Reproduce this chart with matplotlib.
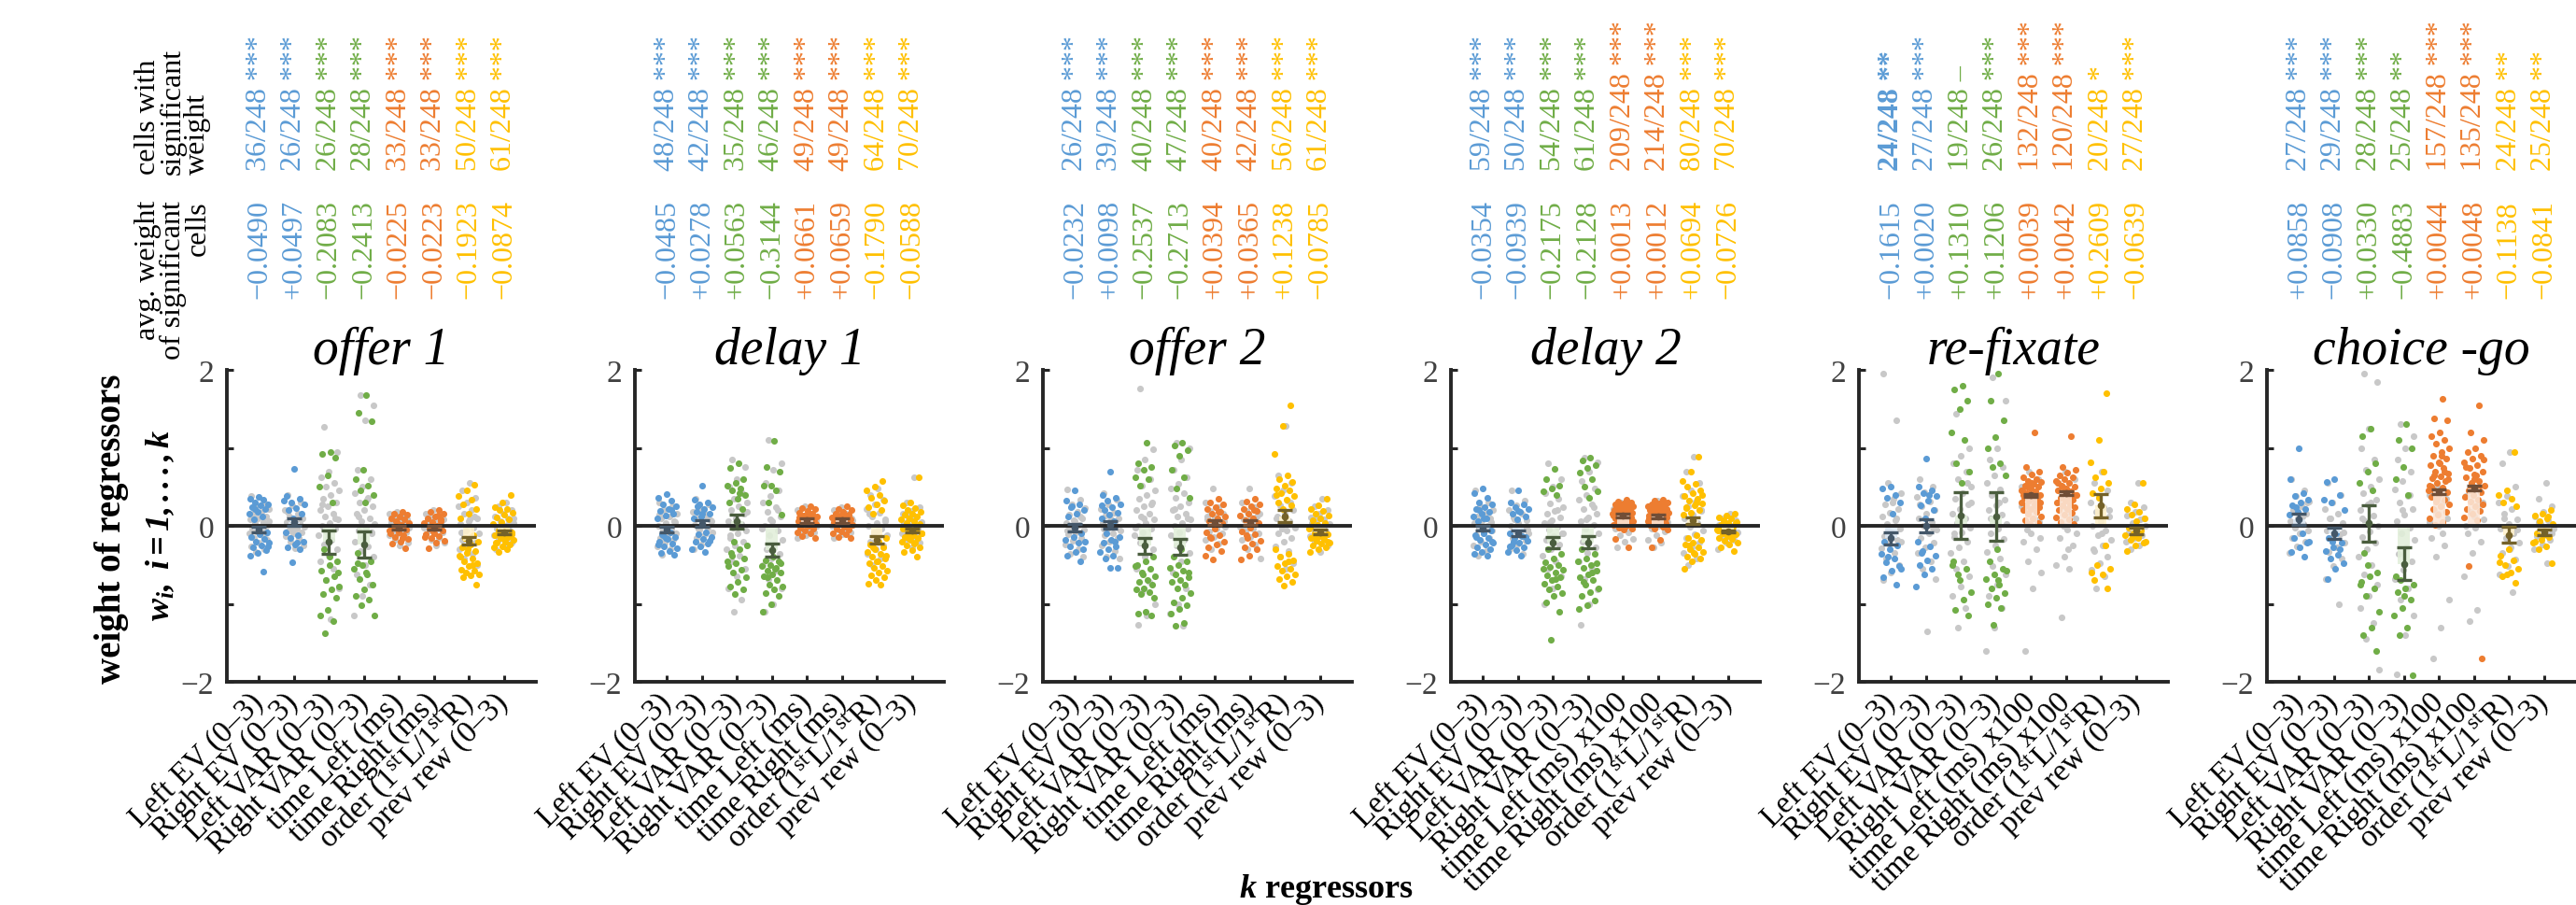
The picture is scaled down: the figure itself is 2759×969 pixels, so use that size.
import numpy as np
import matplotlib
matplotlib.use('Agg')
import matplotlib.pyplot as plt
from matplotlib.transforms import blended_transform_factory
from matplotlib.colors import to_rgb

plt.rcParams['font.family'] = ['Liberation Serif', 'DejaVu Serif']
plt.rcParams['mathtext.fontset'] = 'custom'
plt.rcParams['mathtext.rm'] = 'Liberation Serif'
plt.rcParams['mathtext.it'] = 'Liberation Serif:italic'
plt.rcParams['mathtext.bf'] = 'Liberation Serif:italic:bold'

# ---------------- data ----------------
PANELS = ['offer 1', 'delay 1', 'offer 2', 'delay 2', 're-fixate', 'choice -go']
REGRESSORS = ['Left EV (0\u20133)', 'Right EV (0\u20133)', 'Left VAR (0\u20133)', 'Right VAR (0\u20133)',
              'time Left (ms)', 'time Right (ms)', r'order (1$^{\mathrm{st}}$L/1$^{\mathrm{st}}$R)',
              'prev rew (0\u20133)']
X100 = [False, False, False, True, True, True]   # time regressors shown x100
N_CELLS = 248

SIG_COUNTS = [[36, 26, 26, 28, 33, 33, 50, 61],
              [48, 42, 35, 46, 49, 49, 64, 70],
              [26, 39, 40, 47, 40, 42, 56, 61],
              [59, 50, 54, 61, 209, 214, 80, 70],
              [24, 27, 19, 26, 132, 120, 20, 27],
              [27, 29, 28, 25, 157, 135, 24, 25]]
STARS = [['***'] * 8, ['***'] * 8, ['***'] * 8, ['***'] * 8,
         ['**', '***', '\u2013', '***', '***', '***', '*', '***'],
         ['***', '***', '***', '**', '***', '***', '**', '**']]
BOLD_COUNT = [(4, 0)]
AVG_WEIGHT = [[-0.0490, 0.0497, -0.2083, -0.2413, -0.0225, -0.0223, -0.1923, -0.0874],
              [-0.0485, 0.0278, 0.0563, -0.3144, 0.0661, 0.0659, -0.1790, -0.0588],
              [-0.0232, 0.0098, -0.2537, -0.2713, 0.0394, 0.0365, 0.1238, -0.0785],
              [-0.0354, -0.0939, -0.2175, -0.2128, 0.0013, 0.0012, 0.0694, -0.0726],
              [-0.1615, 0.0020, 0.1310, 0.1206, 0.0039, 0.0042, 0.2609, -0.0639],
              [0.0858, -0.0908, 0.0330, -0.4883, 0.0044, 0.0048, -0.1138, -0.0841]]
ERR_HALF = [[0.04, 0.047, 0.145, 0.17, 0.025, 0.025, 0.05, 0.025],
            [0.036, 0.04, 0.09, 0.084, 0.025, 0.025, 0.045, 0.02],
            [0.05, 0.045, 0.1, 0.1, 0.03, 0.03, 0.08, 0.025],
            [0.03, 0.035, 0.075, 0.08, 0.02, 0.02, 0.04, 0.015],
            [0.08, 0.08, 0.3, 0.31, 0.015, 0.02, 0.15, 0.04],
            [0.072, 0.072, 0.235, 0.21, 0.03, 0.03, 0.1, 0.04]]

# representative cell weights (plotted units), non-significant (gray) and significant (colored)
GRAY_OFFER1 = [
    [0.38, 0.3, 0.25, 0.22, 0.18, 0.15, 0.12, 0.1, 0.08, 0.05, 0.03, 0.01, -0.01, -0.03, -0.05, -0.07, -0.09, -0.12, -0.15, -0.18, -0.22, -0.26, -0.3, -0.34, 0.06, -0.02, 0.14, -0.1],
    [0.4, 0.3, 0.26, 0.2, 0.16, 0.12, 0.1, 0.07, 0.05, 0.03, 0.01, -0.01, -0.03, -0.06, -0.08, -0.1, -0.13, -0.16, -0.2, -0.25, -0.29, 0.18, 0.09, -0.04],
    [1.27, 0.95, 0.7, 0.62, 0.55, 0.5, 0.45, 0.4, 0.35, 0.3, 0.25, 0.2, 0.16, 0.12, 0.08, 0.04, 0.0, -0.04, -0.08, -0.12, -0.18, -0.24, -0.3, -0.38, -0.45, -0.55, -0.7, -0.8, -1.2, 0.28, 0.1, -0.15],
    [1.68, 1.55, 1.35, 0.72, 0.6, 0.5, 0.42, 0.36, 0.3, 0.25, 0.2, 0.15, 0.1, 0.06, 0.02, -0.02, -0.06, -0.1, -0.15, -0.2, -0.26, -0.32, -0.4, -0.5, -0.62, -0.75, -0.9, -1.15, 0.33, 0.12, -0.08],
    [0.18, 0.15, 0.12, 0.1, 0.08, 0.06, 0.04, 0.02, 0.0, -0.02, -0.04, -0.06, -0.08, -0.1, -0.12, -0.15, -0.18, -0.22, -0.25, 0.05, -0.03, 0.09],
    [0.2, 0.16, 0.13, 0.1, 0.08, 0.06, 0.04, 0.02, 0.0, -0.02, -0.04, -0.06, -0.08, -0.1, -0.12, -0.15, -0.18, -0.21, -0.25, 0.07, -0.03, 0.11],
    [0.55, 0.45, 0.36, 0.3, 0.25, 0.2, 0.15, 0.1, 0.06, 0.02, -0.02, -0.06, -0.1, -0.14, -0.18, -0.22, -0.26, -0.3, -0.36, -0.42, -0.5, 0.08, -0.08, 0.12],
    [0.3, 0.25, 0.2, 0.16, 0.12, 0.09, 0.06, 0.03, 0.0, -0.03, -0.06, -0.09, -0.12, -0.15, -0.18, -0.22, -0.26, -0.3, 0.04, -0.05, 0.1]]
SIG_OFFER1 = [
    [0.37, 0.35, 0.33, 0.3, 0.28, 0.26, 0.24, 0.21, 0.18, 0.15, 0.12, 0.08, -0.08, -0.11, -0.14, -0.17, -0.2, -0.22, -0.25, -0.28, -0.31, -0.35, -0.38, -0.59, 0.22, -0.26],
    [0.73, 0.38, 0.35, 0.3, 0.27, 0.23, 0.2, 0.15, 0.1, -0.08, -0.12, -0.16, -0.2, -0.24, -0.27, -0.3, -0.47, 0.32, -0.22],
    [0.95, 0.92, 0.88, 0.65, 0.5, 0.3, -0.3, -0.45, -0.5, -0.58, -0.65, -0.7, -0.78, -0.82, -0.88, -0.92, -1.08, -1.15, -1.22, -1.38, -0.6, -0.4],
    [1.68, 1.45, 1.34, 0.72, 0.6, 0.52, 0.46, 0.4, 0.3, -0.35, -0.45, -0.5, -0.55, -0.62, -0.68, -0.75, -0.82, -0.9, -0.95, -1.02, -1.15, -0.6, -0.48],
    [0.18, 0.16, 0.14, 0.12, 0.1, 0.08, 0.06, 0.03, 0.01, -0.02, -0.05, -0.08, -0.1, -0.12, -0.14, -0.17, -0.2, -0.23, -0.29, 0.05, -0.06, -0.15],
    [0.2, 0.18, 0.15, 0.12, 0.1, 0.08, 0.05, 0.03, 0.0, -0.03, -0.06, -0.09, -0.11, -0.13, -0.16, -0.19, -0.22, -0.29, 0.06, -0.07, -0.14, 0.13],
    [0.53, 0.45, 0.38, 0.33, 0.28, 0.22, 0.15, 0.1, -0.12, -0.16, -0.2, -0.24, -0.28, -0.32, -0.35, -0.38, -0.42, -0.45, -0.48, -0.52, -0.56, -0.58, -0.6, -0.62, -0.64, -0.66, -0.75, -0.3, -0.4, -0.5],
    [0.39, 0.3, 0.24, 0.22, 0.2, 0.17, 0.14, 0.11, 0.08, 0.05, 0.02, -0.03, -0.06, -0.08, -0.1, -0.12, -0.14, -0.16, -0.18, -0.2, -0.22, -0.24, -0.26, -0.28, -0.3, -0.34, -0.11, -0.17, -0.21, -0.13]]

GRAY_DELAY1 = [
    [0.3, 0.25, 0.2, 0.16, 0.12, 0.09, 0.06, 0.03, 0.0, -0.03, -0.06, -0.09, -0.12, -0.15, -0.18, -0.22, -0.26, -0.3, -0.37, 0.05, -0.05, 0.14],
    [0.35, 0.28, 0.23, 0.18, 0.14, 0.1, 0.07, 0.04, 0.01, -0.02, -0.05, -0.08, -0.11, -0.15, -0.19, -0.24, -0.3, 0.12, -0.04, 0.06],
    [0.85, 0.75, 0.6, 0.5, 0.42, 0.35, 0.3, 0.25, 0.2, 0.15, 0.1, 0.06, 0.02, -0.02, -0.06, -0.1, -0.15, -0.2, -0.25, -0.3, -0.38, -0.45, -0.55, -0.65, -0.8, -0.95, -1.1, 0.18, 0.04, -0.12],
    [1.1, 0.8, 0.72, 0.55, 0.45, 0.38, 0.3, 0.24, 0.18, 0.12, 0.06, 0.0, -0.06, -0.12, -0.18, -0.24, -0.3, -0.36, -0.42, -0.5, -0.58, -0.68, -0.8, -1.0, -1.1, 0.2, 0.08, -0.04],
    [0.25, 0.2, 0.16, 0.13, 0.1, 0.08, 0.06, 0.04, 0.02, 0.0, -0.02, -0.05, -0.08, -0.12, -0.16, 0.11, 0.03, 0.07],
    [0.24, 0.2, 0.16, 0.13, 0.1, 0.08, 0.06, 0.04, 0.02, 0.0, -0.02, -0.05, -0.08, -0.11, -0.15, 0.12, 0.03, 0.07],
    [0.48, 0.4, 0.33, 0.27, 0.22, 0.17, 0.12, 0.08, 0.04, 0.0, -0.04, -0.08, -0.12, -0.16, -0.2, -0.25, -0.3, -0.36, -0.42, -0.5, 0.06, -0.06, 0.15],
    [0.62, 0.3, 0.24, 0.19, 0.15, 0.11, 0.08, 0.05, 0.02, -0.01, -0.04, -0.07, -0.1, -0.13, -0.17, -0.22, -0.28, 0.04, -0.05, 0.12]]
SIG_DELAY1 = [
    [0.41, 0.36, 0.32, 0.28, 0.25, 0.22, 0.19, 0.16, 0.13, 0.1, -0.08, -0.11, -0.14, -0.17, -0.2, -0.23, -0.26, -0.29, -0.32, -0.35, -0.37, -0.16, -0.24, 0.2, -0.12],
    [0.52, 0.34, 0.3, 0.27, 0.24, 0.21, 0.18, 0.15, 0.12, 0.09, -0.08, -0.11, -0.14, -0.17, -0.2, -0.23, -0.26, -0.3, -0.33, 0.25, -0.19, 0.16],
    [0.8, 0.74, 0.6, 0.55, 0.52, 0.48, 0.45, 0.4, 0.35, 0.3, 0.22, -0.2, -0.25, -0.3, -0.35, -0.42, -0.48, -0.52, -0.56, -0.6, -0.66, -0.72, -0.78, -0.82, -0.88, -0.45, 0.42, -0.38],
    [1.09, 0.75, 0.7, 0.52, 0.52, 0.45, 0.3, 0.14, -0.4, -0.44, -0.46, -0.5, -0.52, -0.55, -0.58, -0.6, -0.62, -0.65, -0.7, -0.75, -0.78, -0.82, -0.86, -0.9, -1.0, -1.1, -0.54, -0.66, -0.48],
    [0.25, 0.23, 0.21, 0.19, 0.17, 0.15, 0.13, 0.12, 0.1, 0.09, 0.08, 0.07, 0.06, 0.05, 0.03, 0.02, 0.0, -0.02, -0.04, -0.06, -0.08, -0.1, -0.13, -0.16, 0.14, 0.11, 0.04],
    [0.25, 0.22, 0.2, 0.18, 0.16, 0.14, 0.13, 0.11, 0.1, 0.09, 0.08, 0.07, 0.05, 0.04, 0.03, 0.01, -0.01, -0.03, -0.05, -0.07, -0.09, -0.11, -0.14, -0.16, 0.15, 0.12, 0.06],
    [0.57, 0.5, 0.45, 0.4, 0.36, 0.32, 0.28, 0.24, 0.2, 0.16, -0.16, -0.2, -0.24, -0.27, -0.3, -0.33, -0.36, -0.39, -0.42, -0.45, -0.48, -0.51, -0.54, -0.57, -0.6, -0.63, -0.66, -0.7, -0.74, -0.76, -0.28, -0.38, -0.46],
    [0.62, 0.3, 0.26, 0.23, 0.2, 0.18, 0.16, 0.14, 0.12, 0.1, 0.08, 0.06, 0.04, 0.02, -0.02, -0.04, -0.06, -0.08, -0.1, -0.12, -0.14, -0.16, -0.18, -0.2, -0.22, -0.25, -0.28, -0.31, -0.34, -0.4, -0.15, -0.09, -0.23, 0.0]]

GRAY_OFFER2 = [
    [0.47, 0.34, 0.28, 0.23, 0.18, 0.14, 0.1, 0.07, 0.04, 0.01, -0.02, -0.05, -0.08, -0.11, -0.15, -0.19, -0.24, -0.3, -0.36, -0.4, 0.06, -0.06, 0.12],
    [0.42, 0.34, 0.28, 0.22, 0.17, 0.13, 0.09, 0.06, 0.03, 0.0, -0.03, -0.06, -0.09, -0.12, -0.16, -0.2, -0.25, -0.32, -0.4, -0.42, 0.08, -0.04],
    [1.76, 0.98, 0.85, 0.72, 0.6, 0.52, 0.46, 0.4, 0.35, 0.3, 0.25, 0.2, 0.16, 0.12, 0.08, 0.04, 0.0, -0.04, -0.08, -0.12, -0.17, -0.22, -0.3, -0.4, -0.55, -0.72, -0.85, -1.0, -1.15, -1.27, 0.28, 0.1, -0.02],
    [1.07, 1.0, 0.85, 0.72, 0.62, 0.54, 0.48, 0.42, 0.36, 0.3, 0.25, 0.2, 0.16, 0.12, 0.08, 0.04, 0.0, -0.04, -0.08, -0.12, -0.18, -0.25, -0.35, -0.45, -0.6, -0.8, -1.0, -1.12, -1.28, 0.22, 0.1],
    [0.48, 0.3, 0.24, 0.19, 0.15, 0.11, 0.08, 0.05, 0.02, -0.01, -0.04, -0.07, -0.1, -0.14, -0.18, -0.23, -0.3, 0.06, -0.02, 0.12],
    [0.48, 0.3, 0.24, 0.19, 0.15, 0.11, 0.08, 0.05, 0.02, -0.01, -0.04, -0.07, -0.1, -0.14, -0.18, -0.24, -0.3, -0.42, 0.06, -0.02, 0.12],
    [1.28, 0.65, 0.55, 0.46, 0.38, 0.32, 0.26, 0.2, 0.15, 0.1, 0.06, 0.02, -0.02, -0.06, -0.1, -0.15, -0.2, -0.26, -0.32, -0.4, -0.48, -0.55, 0.12, 0.3, -0.04],
    [0.35, 0.25, 0.2, 0.15, 0.11, 0.08, 0.05, 0.02, -0.01, -0.04, -0.07, -0.1, -0.13, -0.16, -0.2, -0.25, -0.33, 0.03, -0.06, 0.1]]
SIG_OFFER2 = [
    [0.46, 0.32, 0.28, 0.24, 0.2, 0.16, 0.12, -0.1, -0.14, -0.18, -0.22, -0.26, -0.3, -0.34, -0.38, -0.46, 0.25, -0.2],
    [0.7, 0.4, 0.36, 0.32, 0.28, 0.24, 0.2, 0.17, 0.14, 0.1, 0.06, -0.1, -0.14, -0.18, -0.22, -0.26, -0.3, -0.34, -0.38, -0.42, -0.54, -0.54, 0.26, -0.2],
    [1.06, 0.8, 0.76, 0.72, 0.62, 0.6, 0.52, -0.4, -0.45, -0.5, -0.55, -0.6, -0.65, -0.7, -0.72, -0.76, -0.8, -0.82, -0.85, -0.88, -0.92, -1.1, -1.13, -1.15, -0.62, -0.52],
    [1.07, 1.03, 0.97, 0.9, 0.72, 0.62, 0.48, 0.36, -0.3, -0.4, -0.46, -0.5, -0.54, -0.58, -0.62, -0.66, -0.7, -0.72, -0.76, -0.8, -0.86, -0.92, -0.98, -1.02, -1.06, -1.12, -1.24, -1.28, -0.6],
    [0.35, 0.3, 0.27, 0.24, 0.21, 0.18, 0.15, 0.12, 0.09, 0.06, 0.03, -0.03, -0.08, -0.12, -0.16, -0.2, -0.24, -0.28, -0.32, -0.43, -0.38, 0.18, -0.14],
    [0.35, 0.31, 0.28, 0.25, 0.22, 0.19, 0.16, 0.13, 0.1, 0.07, 0.04, -0.02, -0.07, -0.11, -0.15, -0.19, -0.23, -0.27, -0.3, -0.38, -0.43, 0.2, -0.12],
    [1.54, 1.28, 0.92, 0.65, 0.6, 0.56, 0.52, 0.48, 0.45, 0.42, 0.38, 0.34, 0.3, 0.26, 0.22, -0.3, -0.36, -0.4, -0.44, -0.48, -0.52, -0.55, -0.58, -0.62, -0.65, -0.68, -0.72, -0.77, 0.4, -0.46],
    [0.35, 0.26, 0.22, 0.19, 0.16, 0.13, 0.1, 0.07, 0.04, 0.01, -0.03, -0.06, -0.09, -0.11, -0.13, -0.15, -0.17, -0.19, -0.21, -0.23, -0.25, -0.27, -0.3, -0.33, -0.12, -0.16, -0.2, -0.08, 0.0]]

GRAY_DELAY2 = [
    [0.45, 0.3, 0.25, 0.2, 0.16, 0.12, 0.09, 0.06, 0.03, 0.0, -0.03, -0.06, -0.09, -0.12, -0.16, -0.2, -0.25, -0.32, -0.38, 0.05, -0.05],
    [0.45, 0.32, 0.26, 0.2, 0.15, 0.11, 0.07, 0.03, 0.0, -0.03, -0.06, -0.09, -0.12, -0.15, -0.19, -0.24, -0.3, -0.36, 0.08, -0.05],
    [0.8, 0.6, 0.5, 0.42, 0.35, 0.29, 0.24, 0.19, 0.15, 0.11, 0.07, 0.03, -0.01, -0.05, -0.09, -0.13, -0.18, -0.24, -0.3, -0.38, -0.46, -0.55, -0.65, -0.8, -1.0, 0.2, 0.05, -0.1],
    [0.88, 0.82, 0.7, 0.58, 0.48, 0.4, 0.33, 0.27, 0.21, 0.16, 0.11, 0.06, 0.01, -0.04, -0.09, -0.14, -0.2, -0.27, -0.35, -0.45, -0.55, -0.68, -0.82, -1.0, -1.27, 0.24, 0.08],
    [0.3, 0.22, 0.15, 0.1, 0.05, 0.02, -0.03, -0.08, -0.12, -0.17, -0.2, -0.28, 0.18, 0.0],
    [0.32, 0.22, 0.16, 0.1, 0.05, 0.01, -0.03, -0.07, -0.12, -0.18, -0.22, -0.28, 0.17, 0.0],
    [0.89, 0.7, 0.55, 0.45, 0.38, 0.31, 0.25, 0.19, 0.14, 0.09, 0.04, -0.01, -0.06, -0.11, -0.16, -0.22, -0.28, -0.35, -0.42, -0.5, 0.2, 0.02],
    [0.15, 0.1, 0.07, 0.04, 0.01, -0.02, -0.05, -0.08, -0.11, -0.14, -0.18, -0.22, -0.3, 0.0, -0.06]]
SIG_DELAY2 = [
    [0.48, 0.42, 0.36, 0.3, 0.27, 0.24, 0.21, 0.18, 0.15, 0.12, 0.09, 0.06, -0.06, -0.09, -0.12, -0.15, -0.18, -0.21, -0.24, -0.27, -0.3, -0.33, -0.36, -0.38, 0.2, -0.2, 0.1, -0.14],
    [0.45, 0.3, 0.27, 0.24, 0.21, 0.18, 0.15, 0.12, 0.08, -0.1, -0.13, -0.16, -0.19, -0.22, -0.25, -0.28, -0.31, -0.34, -0.38, -0.2, -0.14, 0.19, -0.26],
    [0.73, 0.6, 0.52, 0.48, 0.44, 0.4, -0.3, -0.36, -0.42, -0.47, -0.5, -0.53, -0.56, -0.6, -0.63, -0.66, -0.7, -0.74, -0.78, -0.82, -0.86, -0.9, -0.98, -1.1, -1.46, -0.55, -0.68],
    [0.88, 0.84, 0.78, 0.74, 0.68, 0.6, 0.5, 0.44, 0.36, -0.3, -0.36, -0.42, -0.46, -0.5, -0.54, -0.58, -0.62, -0.66, -0.7, -0.75, -0.8, -0.85, -0.9, -0.96, -1.02, -1.06, -0.6, -0.72, -0.48],
    [0.33, 0.31, 0.3, 0.29, 0.28, 0.27, 0.26, 0.25, 0.24, 0.23, 0.22, 0.21, 0.2, 0.19, 0.18, 0.17, 0.16, 0.15, 0.15, 0.14, 0.13, 0.12, 0.12, 0.11, 0.1, 0.09, 0.08, 0.07, 0.06, 0.05, 0.04, 0.03, 0.02, 0.01, 0.0, -0.02, -0.04, -0.05, -0.17, -0.28, 0.2, 0.16, 0.11, 0.07, 0.13, 0.18],
    [0.34, 0.32, 0.3, 0.29, 0.28, 0.27, 0.26, 0.25, 0.24, 0.23, 0.22, 0.21, 0.2, 0.19, 0.18, 0.17, 0.16, 0.15, 0.14, 0.14, 0.13, 0.12, 0.11, 0.11, 0.1, 0.09, 0.08, 0.07, 0.06, 0.05, 0.04, 0.03, 0.02, 0.01, -0.01, -0.03, -0.05, -0.18, -0.28, 0.21, 0.15, 0.1, 0.06, 0.12, 0.19],
    [0.89, 0.7, 0.58, 0.54, 0.5, 0.46, 0.42, 0.38, 0.35, 0.32, 0.29, 0.26, 0.23, 0.2, 0.17, 0.14, -0.12, -0.15, -0.18, -0.21, -0.24, -0.27, -0.3, -0.33, -0.36, -0.39, -0.42, -0.45, -0.55, 0.3, -0.25, 0.4, -0.35, 0.24],
    [0.15, 0.13, 0.11, 0.09, 0.07, 0.05, 0.03, 0.01, -0.01, -0.03, -0.05, -0.07, -0.09, -0.11, -0.13, -0.15, -0.17, -0.19, -0.21, -0.24, -0.28, -0.32, -0.1, -0.06, -0.14, -0.02, 0.04, -0.12]]

GRAY_REFIX = [
    [1.95, 1.35, 0.55, 0.42, 0.35, 0.28, 0.22, 0.17, 0.12, 0.07, 0.02, -0.03, -0.08, -0.13, -0.18, -0.23, -0.29, -0.35, -0.42, -0.5, -0.6, -0.7, 0.1, -0.05, -0.2, 0.3],
    [0.6, 0.5, 0.43, 0.37, 0.31, 0.25, 0.2, 0.15, 0.1, 0.05, 0.0, -0.05, -0.1, -0.15, -0.21, -0.28, -0.35, -0.45, -0.55, -0.68, -1.35, 0.28, -0.02],
    [1.44, 1.0, 0.9, 0.8, 0.7, 0.6, 0.5, 0.42, 0.35, 0.28, 0.22, 0.16, 0.1, 0.04, -0.02, -0.08, -0.14, -0.2, -0.27, -0.35, -0.45, -0.55, -0.65, -0.78, -0.9, -1.05, -1.3, 0.3, 0.12, -0.1, 0.55],
    [1.9, 1.6, 1.0, 0.85, 0.75, 0.65, 0.55, 0.47, 0.4, 0.33, 0.26, 0.2, 0.14, 0.08, 0.02, -0.04, -0.1, -0.17, -0.25, -0.33, -0.42, -0.52, -0.62, -0.75, -0.9, -1.05, -1.3, -1.6, 0.3, 0.1],
    [0.7, 0.5, 0.35, 0.2, 0.05, -0.1, -0.2, -0.3, -0.45, -0.6, -0.8, -1.6, 0.6, 0.4, 0.25, 0.1, -0.05, -0.15],
    [0.7, 0.55, 0.4, 0.25, 0.1, -0.05, -0.15, -0.25, -0.4, -0.5, -0.55, -1.17, 0.6, 0.45, 0.3, 0.15, 0.0, -0.1, -0.3],
    [0.7, 0.55, 0.45, 0.37, 0.3, 0.24, 0.18, 0.12, 0.06, 0.0, -0.06, -0.12, -0.18, -0.25, -0.32, -0.4, -0.48, -0.56, -0.65, -0.8, 0.2, -0.1, -0.3],
    [0.55, 0.3, 0.24, 0.18, 0.13, 0.08, 0.04, 0.0, -0.04, -0.08, -0.12, -0.16, -0.2, -0.25, -0.3, 0.1, -0.02]]
SIG_REFIX = [
    [0.5, 0.48, 0.4, 0.36, 0.3, 0.15, -0.2, -0.25, -0.3, -0.36, -0.42, -0.47, -0.52, -0.58, -0.66, -0.75, -0.4, -0.55],
    [0.86, 0.5, 0.46, 0.42, 0.38, 0.32, 0.26, 0.2, 0.1, -0.2, -0.26, -0.32, -0.38, -0.44, -0.5, -0.55, -0.62, -0.78, 0.4, -0.35],
    [1.8, 1.75, 1.6, 1.5, 1.2, 1.1, 0.8, 0.7, 0.55, -0.45, -0.55, -0.62, -0.85, -0.95, -1.08, -1.15, -0.7, -0.5],
    [1.95, 1.6, 1.35, 1.14, 1.0, 0.8, 0.75, 0.65, -0.3, -0.45, -0.55, -0.62, -0.68, -0.75, -0.8, -0.86, -0.92, -1.0, -1.05, -1.27, -0.58, -0.7],
    [1.2, 0.75, 0.7, 0.66, 0.62, 0.6, 0.58, 0.56, 0.54, 0.52, 0.5, 0.48, 0.46, 0.44, 0.42, 0.4, 0.38, 0.36, 0.34, 0.32, 0.3, 0.28, 0.26, 0.24, 0.22, 0.2, 0.18, 0.15, 0.12, 0.1, 0.07, 0.04, 0.02, 0.45, 0.35, 0.5, 0.3, 0.55, 0.4, 0.25],
    [1.15, 0.75, 0.72, 0.68, 0.65, 0.62, 0.6, 0.58, 0.55, 0.52, 0.5, 0.48, 0.46, 0.44, 0.42, 0.4, 0.38, 0.36, 0.34, 0.32, 0.3, 0.28, 0.26, 0.24, 0.22, 0.2, 0.17, 0.14, 0.11, 0.08, 0.05, 0.02, 0.45, 0.55, 0.35, 0.5, 0.4],
    [1.7, 1.1, 0.82, 0.7, 0.62, 0.55, 0.48, 0.42, -0.25, -0.5, -0.55, -0.62, -0.7, -0.8, 0.36, -0.6],
    [0.55, 0.27, 0.22, 0.18, 0.14, 0.1, 0.06, -0.02, -0.06, -0.09, -0.12, -0.15, -0.18, -0.21, -0.25, -0.32, -0.1, -0.14, -0.2]]

GRAY_CHOICE = [
    [0.6, 0.45, 0.38, 0.31, 0.25, 0.2, 0.15, 0.1, 0.06, 0.02, -0.02, -0.06, -0.1, -0.15, -0.2, -0.26, -0.35, 0.12, 0.04, 0.3],
    [0.55, 0.4, 0.3, 0.22, 0.15, 0.09, 0.04, -0.01, -0.06, -0.11, -0.16, -0.21, -0.27, -0.34, -0.42, -0.52, -0.68, -1.0, 0.1, -0.08],
    [1.95, 1.85, 1.25, 1.0, 0.85, 0.72, 0.6, 0.5, 0.42, 0.34, 0.27, 0.2, 0.13, 0.06, 0.0, -0.07, -0.14, -0.22, -0.3, -0.4, -0.5, -0.62, -0.75, -0.9, -1.05, -1.25, -1.45, -1.85, 0.3, 0.1],
    [1.3, 1.15, 1.0, 0.85, 0.7, 0.58, 0.47, 0.38, 0.3, 0.22, 0.14, 0.06, -0.02, -0.1, -0.18, -0.27, -0.36, -0.46, -0.56, -0.68, -0.8, -0.95, -1.15, -1.4, -1.9, 0.4, 0.2],
    [0.5, 0.4, 0.3, 0.2, 0.1, 0.0, -0.15, -0.25, -0.4, -0.95, -1.3, -1.7, 0.35, 0.15, 0.05, -0.1],
    [0.5, 0.38, 0.28, 0.18, 0.08, -0.02, -0.1, -0.2, -0.35, -0.65, -1.08, -1.22, 0.3, 0.12, 0.0],
    [0.95, 0.8, 0.5, 0.38, 0.3, 0.22, 0.15, 0.08, 0.02, -0.04, -0.1, -0.16, -0.22, -0.28, -0.35, -0.43, -0.52, -0.62, -0.85, 0.1, -0.05, -0.3],
    [0.55, 0.35, 0.25, 0.18, 0.12, 0.07, 0.02, -0.03, -0.08, -0.13, -0.18, -0.24, -0.3, -0.48, 0.05, -0.1]]
SIG_CHOICE = [
    [0.99, 0.6, 0.42, 0.38, 0.34, 0.3, 0.26, 0.22, 0.18, 0.14, -0.1, -0.16, -0.22, -0.28, -0.33, -0.4, 0.24, -0.2],
    [0.6, 0.56, 0.4, 0.3, 0.2, -0.1, -0.16, -0.22, -0.27, -0.32, -0.37, -0.42, -0.48, -0.55, -0.68, -0.3, -0.2, 0.34],
    [1.25, 1.15, 0.8, 0.7, 0.55, 0.45, -0.35, -0.6, -0.65, -0.72, -0.8, -0.9, -1.1, -1.3, -1.4, -1.6, -0.5, -0.75],
    [1.3, 1.1, 1.0, 0.75, 0.6, 0.4, -0.7, -0.75, -0.8, -0.85, -0.95, -1.05, -1.15, -1.3, -1.4, -1.92, -0.9, -0.65],
    [1.63, 1.38, 1.35, 1.2, 1.15, 1.1, 1.05, 1.0, 0.95, 0.9, 0.86, 0.82, 0.78, 0.74, 0.7, 0.67, 0.64, 0.61, 0.58, 0.55, 0.52, 0.49, 0.46, 0.43, 0.4, 0.37, 0.34, 0.31, 0.28, 0.25, 0.22, 0.18, 0.14, 0.1, 0.05, 0.01, 0.6, 0.8, 0.5, 0.7, 0.35, 0.45, 0.9, 0.65],
    [1.54, 1.2, 1.1, 1.0, 0.95, 0.9, 0.86, 0.82, 0.78, 0.74, 0.7, 0.66, 0.62, 0.58, 0.55, 0.52, 0.49, 0.46, 0.43, 0.4, 0.37, 0.34, 0.31, 0.28, 0.25, 0.22, 0.19, 0.15, 0.11, 0.07, -0.52, -1.7, 0.6, 0.75, 0.5, 0.45, 0.85, 0.65],
    [0.95, 0.45, 0.4, 0.35, 0.3, 0.25, -0.3, -0.38, -0.44, -0.5, -0.55, -0.6, -0.65, -0.73, -0.62, -0.47],
    [0.2, 0.16, 0.13, 0.1, 0.06, 0.02, -0.06, -0.1, -0.14, -0.18, -0.22, -0.26, -0.3, -0.48, -0.12, -0.2, 0.12]]

GRAY_ALL = [GRAY_OFFER1, GRAY_DELAY1, GRAY_OFFER2, GRAY_DELAY2, GRAY_REFIX, GRAY_CHOICE]
SIG_ALL = [SIG_OFFER1, SIG_DELAY1, SIG_OFFER2, SIG_DELAY2, SIG_REFIX, SIG_CHOICE]

# ---------------- style ----------------
BLUE, GREEN, ORANGE, YELLOW = '#5B9BD5', '#70AD47', '#ED7D31', '#FFC000'
GROUP_COLORS = [BLUE, BLUE, GREEN, GREEN, ORANGE, ORANGE, YELLOW, YELLOW]
GRAY = '#c8c8c8'
AX_COL = '#262626'

W, H = 2759, 970
fig = plt.figure(figsize=(W / 100, H / 100), dpi=100)


def mix(c1, c2, t):
    a = np.array(to_rgb(c1)); b = np.array(to_rgb(c2))
    return tuple(a * (1 - t) + b * t)


def jitter(n, phase):
    k = np.arange(n)
    return ((k * 0.6180339887 + phase) % 1.0 - 0.5) * 0.6


def fmt(v):
    s = f"{v:+.4f}"
    return s.replace('-', '\u2212')


for p in range(6):
    left = (243 + 437 * p) / W
    ax = fig.add_axes([left, 239 / H, 331 / W, 334 / H])
    trans = blended_transform_factory(ax.transData, fig.transFigure)
    for j in range(8):
        x = j + 1
        col = GROUP_COLORS[j]
        g = np.array(GRAY_ALL[p][j]); s = np.array(SIG_ALL[p][j])
        ax.scatter(x + jitter(len(g), 0.13 + 0.07 * j), g, s=26, color=GRAY, linewidths=0, zorder=2)
        ax.scatter(x + jitter(len(s), 0.47 + 0.05 * j), s, s=26, color=col, linewidths=0, zorder=3)
        scale = 100.0 if (X100[p] and j in (4, 5)) else 1.0
        m = AVG_WEIGHT[p][j] * scale
        ax.bar(x, m, width=0.34, color=mix(col, 'white', 0.8), alpha=0.88, linewidth=0, zorder=4)
        ecol = mix(col, '#3a3a3a', 0.7)
        ax.errorbar(x, m, yerr=ERR_HALF[p][j], fmt='o', ms=4.5, color=ecol, ecolor=ecol,
                    elinewidth=2.4, capsize=6, capthick=2.4, zorder=6)
        # top annotations
        bold = (p, j) in BOLD_COUNT
        ax.text(x, 1 - 183 / H, f"{SIG_COUNTS[p][j]}/{N_CELLS} {STARS[p][j]}", transform=trans,
                rotation=90, ha='center', va='bottom', fontsize=23, color=col,
                fontweight='bold' if bold else 'normal')
        ax.text(x, 1 - 320 / H, fmt(AVG_WEIGHT[p][j]), transform=trans,
                rotation=90, ha='center', va='bottom', fontsize=23, color=col)
    ax.axhline(0, color=AX_COL, lw=2.8, zorder=5)
    ax.set_xlim(0.08, 8.92)
    ax.set_ylim(-2, 2)
    ax.set_xticks(range(1, 9))
    labels = list(REGRESSORS)
    if X100[p]:
        labels[4] = labels[4] + ' x100'
        labels[5] = labels[5] + ' x100'
    ax.set_xticklabels(labels, rotation=45, ha='right', va='center', rotation_mode='anchor', fontsize=24)
    ax.set_yticks([-2, -1, 0, 1, 2])
    ax.set_yticklabels(['\u22122', '', '0', '', '2'], fontsize=24, color='#404040')
    for sp in ['top', 'right']:
        ax.spines[sp].set_visible(False)
    for sp in ['left', 'bottom']:
        ax.spines[sp].set_linewidth(2.8)
        ax.spines[sp].set_color(AX_COL)
    ax.tick_params(axis='both', direction='in', length=5, width=2.2, color=AX_COL)
    ax.tick_params(axis='x', pad=12)
    ax.tick_params(axis='y', pad=10)
    ax.text(0.5, 1.021, PANELS[p], transform=ax.transAxes, ha='center', va='baseline',
            fontsize=40, fontstyle='italic')

# row labels (left of first panel)
fig.text(185 / W, 1 - 187 / H, 'cells with\nsignificant\nweight', rotation=90, ha='center', va='bottom',
         multialignment='left', fontsize=23, linespacing=0.9)
fig.text(185 / W, 1 - 215 / H, 'avg. weight\nof significant\ncells', rotation=90, ha='center', va='top',
         multialignment='right', fontsize=23, linespacing=0.9)

# axis labels
fig.text(120 / W, 1 - 566 / H, 'weight of regressors', rotation=90, ha='center', va='center',
         fontsize=28, fontweight='bold')
fig.text(172 / W, 1 - 562 / H, r'$\mathbf{w_i,\ i=1,...,k}$', rotation=90, ha='center', va='center',
         fontsize=26)
fig.text(1420 / W, 1 - 961 / H, r'$\mathbf{k}$ regressors', ha='center', va='baseline',
         fontsize=26, fontweight='bold')

fig.savefig('out.png', dpi=100)
